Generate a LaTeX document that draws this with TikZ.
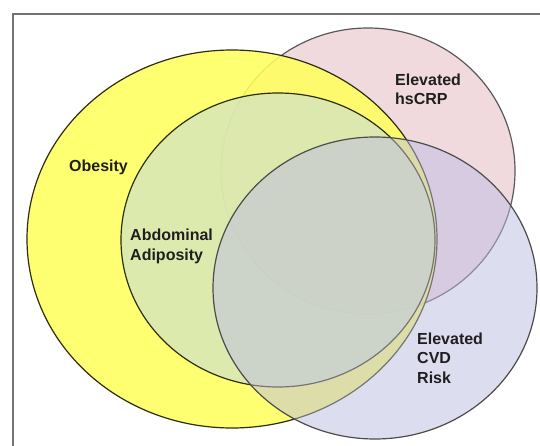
\documentclass[tikz,border=0pt]{standalone}
\usepackage{fontspec}
\setmainfont{Liberation Sans}
\begin{document}
\begin{tikzpicture}[x=1pt,y=-1pt,
  lbl/.style={font=\fontsize{16}{19.5}\selectfont\bfseries, text=black!88, align=left, inner sep=0pt, anchor=base west},
  edge/.style={line width=1.2pt},
]
\definecolor{obyellow}{RGB}{255,255,95}
\definecolor{abgreen}{RGB}{208,226,198}
\definecolor{crppink}{RGB}{240,218,222}
\definecolor{cvdblue}{RGB}{189,189,226}
\definecolor{olive}{RGB}{45,45,15}
\definecolor{frame}{RGB}{115,115,115}
\useasboundingbox (0,0) rectangle (540,446);
\fill[white] (0,0) rectangle (540,446);
\begin{scope}
\clip (0,0) rectangle (540,446);
\draw[frame, line width=2pt] (13,14) rectangle (560,470);
\end{scope}
% Elevated hsCRP (bottom layer)
\fill[crppink] (368,171) ellipse [x radius=147pt, y radius=143pt];
\draw[edge, black!65] (368,171) ellipse [x radius=147pt, y radius=143pt];
% Obesity
\fill[obyellow, fill opacity=0.88] (232,239) ellipse [x radius=205pt, y radius=189pt];
\draw[edge, olive] (232,239) ellipse [x radius=205pt, y radius=189pt];
% Abdominal adiposity
\fill[abgreen, fill opacity=0.72] (278,240) ellipse [x radius=157pt, y radius=147pt];
\draw[edge, olive] (278,240) ellipse [x radius=157pt, y radius=147pt];
% Elevated CVD risk (top layer)
\fill[cvdblue, fill opacity=0.5] (375,288) ellipse [x radius=162pt, y radius=151pt];
\draw[edge, black!70] (375,288) ellipse [x radius=162pt, y radius=151pt];
% labels
\node[lbl] (obesity) at (69,172) {Obesity};
\node[lbl] (abdominal) at (130,260) {Abdominal\\Adiposity};
\node[lbl] (hscrp) at (395,105) {Elevated\\hsCRP};
\node[lbl] (cvd) at (417,383) {Elevated\\CVD\\Risk};
\end{tikzpicture}
\end{document}
